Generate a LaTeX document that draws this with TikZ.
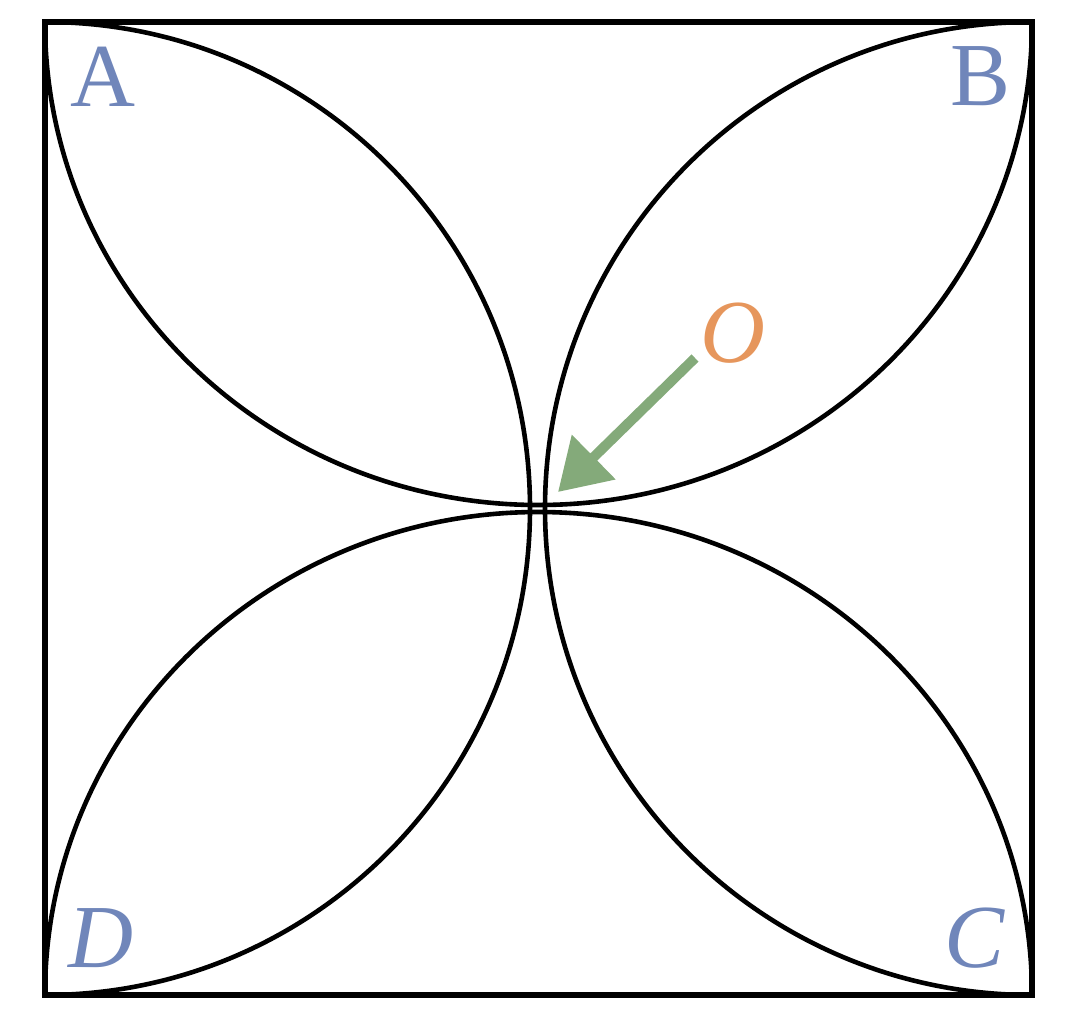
\documentclass[tikz,border=0pt]{standalone}
\usepackage{fontspec}
\setmainfont{Liberation Serif}
\usetikzlibrary{arrows.meta}
\definecolor{lblblue}{RGB}{112,134,186}
\definecolor{lblorange}{RGB}{230,150,92}
\definecolor{arrgreen}{RGB}{132,170,122}
\tikzset{
  sqline/.style={line width=2.6pt,line join=miter},
  arcline/.style={line width=2.3pt},
  lbl/.style={text=lblblue,font=\fontsize{45}{50}\selectfont,inner sep=0pt},
}
\begin{document}
\begin{tikzpicture}[x=0.5pt,y=-0.5pt]
\useasboundingbox (0,0) rectangle (1065,1008);
\coordinate (A) at (45,22);
\coordinate (B) at (1032,22);
\coordinate (C) at (1032,995);
\coordinate (D) at (45,995);
\draw[sqline] (A) -- (B) -- (C) -- (D) -- cycle;
% left semicircle A -> D
\draw[arcline] (A) arc[start angle=-90,end angle=90,x radius=485,y radius=486.5];
% right semicircle B -> C
\draw[arcline] (B) arc[start angle=-90,end angle=-270,x radius=487,y radius=486.5];
% top semicircle A -> B
\draw[arcline] (A) arc[start angle=180,end angle=0,x radius=493.5,y radius=483];
% bottom semicircle D -> C
\draw[arcline] (D) arc[start angle=180,end angle=360,x radius=493.5,y radius=483];
\node[lbl] (lA) at (103,77) {A};
\node[lbl] (lB) at (981,76) {B};
\node[lbl] (lC) at (975,938) {\itshape C};
\node[lbl] (lD) at (101,938) {\itshape D};
\node[lbl,text=lblorange] (lO) at (733,333) {\itshape O};
\coordinate (arrS) at (695,358);
\coordinate (arrT) at (558,492);
\draw[arrgreen,line width=5pt,-{Triangle[length=25pt,width=30pt]}] (arrS) -- (arrT);
\end{tikzpicture}
\end{document}
